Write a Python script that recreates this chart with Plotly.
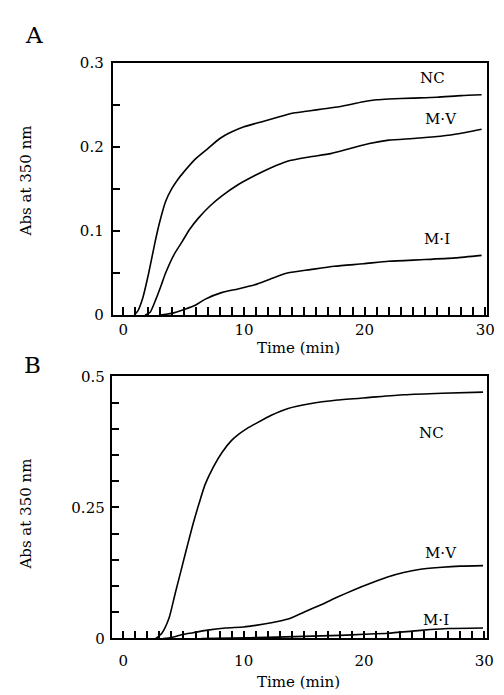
import plotly.graph_objects as go

# ---------------- Data ----------------
# Panel A
a_nc_t = [0.9, 1.2, 1.6, 2.1, 2.6, 3.0, 3.5, 4.0, 4.5, 5.0, 6.0, 7.0, 8.0, 9.0, 10.0, 11.0,
          12.0, 13.0, 14.0, 15.0, 16.0, 17.0, 18.0, 19.0, 20.0, 21.0, 22.0, 24.0, 26.0, 28.0, 29.7]
a_nc_v = [0.0, 0.005, 0.02, 0.05, 0.085, 0.11, 0.135, 0.15, 0.161, 0.17, 0.186, 0.198, 0.21, 0.218,
          0.224, 0.228, 0.232, 0.236, 0.24, 0.242, 0.244, 0.246, 0.248, 0.251, 0.254, 0.256, 0.257,
          0.258, 0.259, 0.261, 0.262]

a_mv_t = [1.8, 2.2, 2.7, 3.1, 3.5, 4.2, 4.9, 5.5, 6.2, 7.2, 8.2, 9.5, 10.9, 12.2, 13.6, 15.4,
          17.2, 18.8, 20.4, 22.0, 24.0, 25.8, 27.5, 29.7]
a_mv_v = [0.0, 0.003, 0.019, 0.034, 0.05, 0.072, 0.088, 0.102, 0.115, 0.13, 0.142, 0.155, 0.166,
          0.175, 0.183, 0.188, 0.192, 0.198, 0.204, 0.208, 0.21, 0.212, 0.215, 0.221]

a_mi_t = [3.0, 4.0, 5.1, 6.0, 6.8, 8.2, 9.5, 10.9, 12.2, 13.6, 15.5, 17.5, 19.9, 22.0, 25.0, 27.5, 29.7]
a_mi_v = [0.0, 0.002, 0.007, 0.012, 0.019, 0.027, 0.031, 0.036, 0.043, 0.05, 0.054, 0.058, 0.061,
          0.064, 0.066, 0.068, 0.071]

# Panel B
b_nc_t = [2.7, 3.2, 3.8, 4.3, 4.8, 5.3, 5.8, 6.3, 6.8, 7.5, 8.2, 9.0, 9.6, 10.3, 11.0, 12.3, 13.7,
          15.5, 17.8, 20.5, 23.3, 26.5, 29.9]
b_nc_v = [0.0, 0.01, 0.039, 0.085, 0.13, 0.175, 0.219, 0.258, 0.294, 0.328, 0.355, 0.378, 0.39,
          0.401, 0.41, 0.426, 0.439, 0.448, 0.455, 0.46, 0.465, 0.468, 0.47]

b_mv_t = [3.3, 4.0, 5.0, 5.8, 7.0, 8.5, 10.0, 11.0, 12.3, 13.7, 15.0, 16.5, 17.8, 19.2, 20.5,
          21.9, 23.3, 24.7, 26.5, 28.0, 29.9]
b_mv_v = [0.0, 0.002, 0.008, 0.011, 0.016, 0.02, 0.022, 0.025, 0.03, 0.037, 0.05, 0.065, 0.079,
          0.093, 0.105, 0.117, 0.126, 0.132, 0.136, 0.138, 0.139]

b_mi_t = [6.5, 9.0, 12.0, 15.0, 18.0, 20.0, 22.0, 24.0, 25.5, 27.0, 29.9]
b_mi_v = [0.0, 0.001, 0.002, 0.004, 0.006, 0.008, 0.01, 0.014, 0.017, 0.019, 0.02]

# labels
series_names = ["NC", "M\u00b7V", "M\u00b7I"]
a_label_t = [25.6, 26.3, 26.0]
a_label_v = [0.282, 0.233, 0.09]
b_label_t = [25.6, 26.4, 26.0]
b_label_v = [0.392, 0.163, 0.036]

x_major = [0, 10, 20, 30]
a_y_major = [0, 0.1, 0.2, 0.3]
a_y_text = ["0", "0.1", "0.2", "0.3"]
b_y_major = [0, 0.25, 0.5]
b_y_text = ["0", "0.25", "0.5"]

FONT = "DejaVu Serif"
FS = 15

fig = go.Figure()
line = dict(color="black", width=1.6, shape="spline", smoothing=0.6)
for t, v in [(a_nc_t, a_nc_v), (a_mv_t, a_mv_v), (a_mi_t, a_mi_v)]:
    fig.add_trace(go.Scatter(x=t, y=v, mode="lines", line=line, xaxis="x", yaxis="y",
                             showlegend=False, hoverinfo="skip"))
for t, v in [(b_nc_t, b_nc_v), (b_mv_t, b_mv_v), (b_mi_t, b_mi_v)]:
    fig.add_trace(go.Scatter(x=t, y=v, mode="lines", line=line, xaxis="x2", yaxis="y2",
                             showlegend=False, hoverinfo="skip"))

axis_common = dict(showline=True, linecolor="black", linewidth=1.6, mirror=True,
                   ticks="inside", ticklen=8, tickwidth=1.5, tickcolor="black",
                   showgrid=False, zeroline=False, layer="above traces",
                   tickfont=dict(family=FONT, size=FS, color="black"))
x_minor = dict(ticks="inside", ticklen=8, tickwidth=1.5, tickcolor="black", dtick=1, tick0=0,
               showgrid=False)
y_minor = dict(ticks="inside", ticklen=8, tickwidth=1.5, tickcolor="black", dtick=0.05, tick0=0,
               showgrid=False)

fig.update_layout(
    width=504, height=695,
    margin=dict(l=0, r=0, t=0, b=0),
    paper_bgcolor="white", plot_bgcolor="white",
    xaxis=dict(domain=[106/504, 486/504], range=[-0.9, 30.17], anchor="y",
               tickmode="array", tickvals=x_major, minor=x_minor, **axis_common),
    yaxis=dict(domain=[1-306/695, 1-47/695], range=[0, 0.3], anchor="x",
               tickmode="array", tickvals=a_y_major, ticktext=a_y_text, minor=y_minor,
               ticklabelstandoff=4, **axis_common),
    xaxis2=dict(domain=[105/504, 486/504], range=[-0.98, 30.25], anchor="y2",
                tickmode="array", tickvals=x_major, minor=x_minor,
                ticklabelstandoff=8, **axis_common),
    yaxis2=dict(domain=[1-638/695, 1-369/695], range=[0, 0.5], anchor="x2",
                tickmode="array", tickvals=b_y_major, ticktext=b_y_text, minor=y_minor,
                ticklabelstandoff=2, **axis_common),
)

ann = []
for name, t, v in zip(series_names, a_label_t, a_label_v):
    ann.append(dict(x=t, y=v, xref="x", yref="y", text=name, showarrow=False,
                    font=dict(family=FONT, size=FS, color="black")))
for name, t, v in zip(series_names, b_label_t, b_label_v):
    ann.append(dict(x=t, y=v, xref="x2", yref="y2", text=name, showarrow=False,
                    font=dict(family=FONT, size=FS, color="black")))
# panel letters
ann.append(dict(x=26/504, y=1-18/695, xref="paper", yref="paper", text="A", showarrow=False,
                xanchor="center", yanchor="middle", font=dict(family=FONT, size=23, color="black")))
ann.append(dict(x=25/504, y=1-357/695, xref="paper", yref="paper", text="B", showarrow=False,
                xanchor="center", yanchor="middle", font=dict(family=FONT, size=23, color="black")))
# axis titles
for yc in [1-340/695, 1-683/695]:
    ann.append(dict(x=295/504, y=yc, xref="paper", yref="paper", text="Time (min)", showarrow=False,
                    xanchor="center", yanchor="middle", font=dict(family=FONT, size=FS, color="black")))
for yc in [1-168/695, 1-510/695]:
    ann.append(dict(x=18/504, y=yc, xref="paper", yref="paper", text="Abs at 350 nm", showarrow=False,
                    textangle=-90, xanchor="center", yanchor="middle",
                    font=dict(family=FONT, size=FS, color="black")))
fig.update_layout(annotations=ann)

fig.write_html("out.html")
